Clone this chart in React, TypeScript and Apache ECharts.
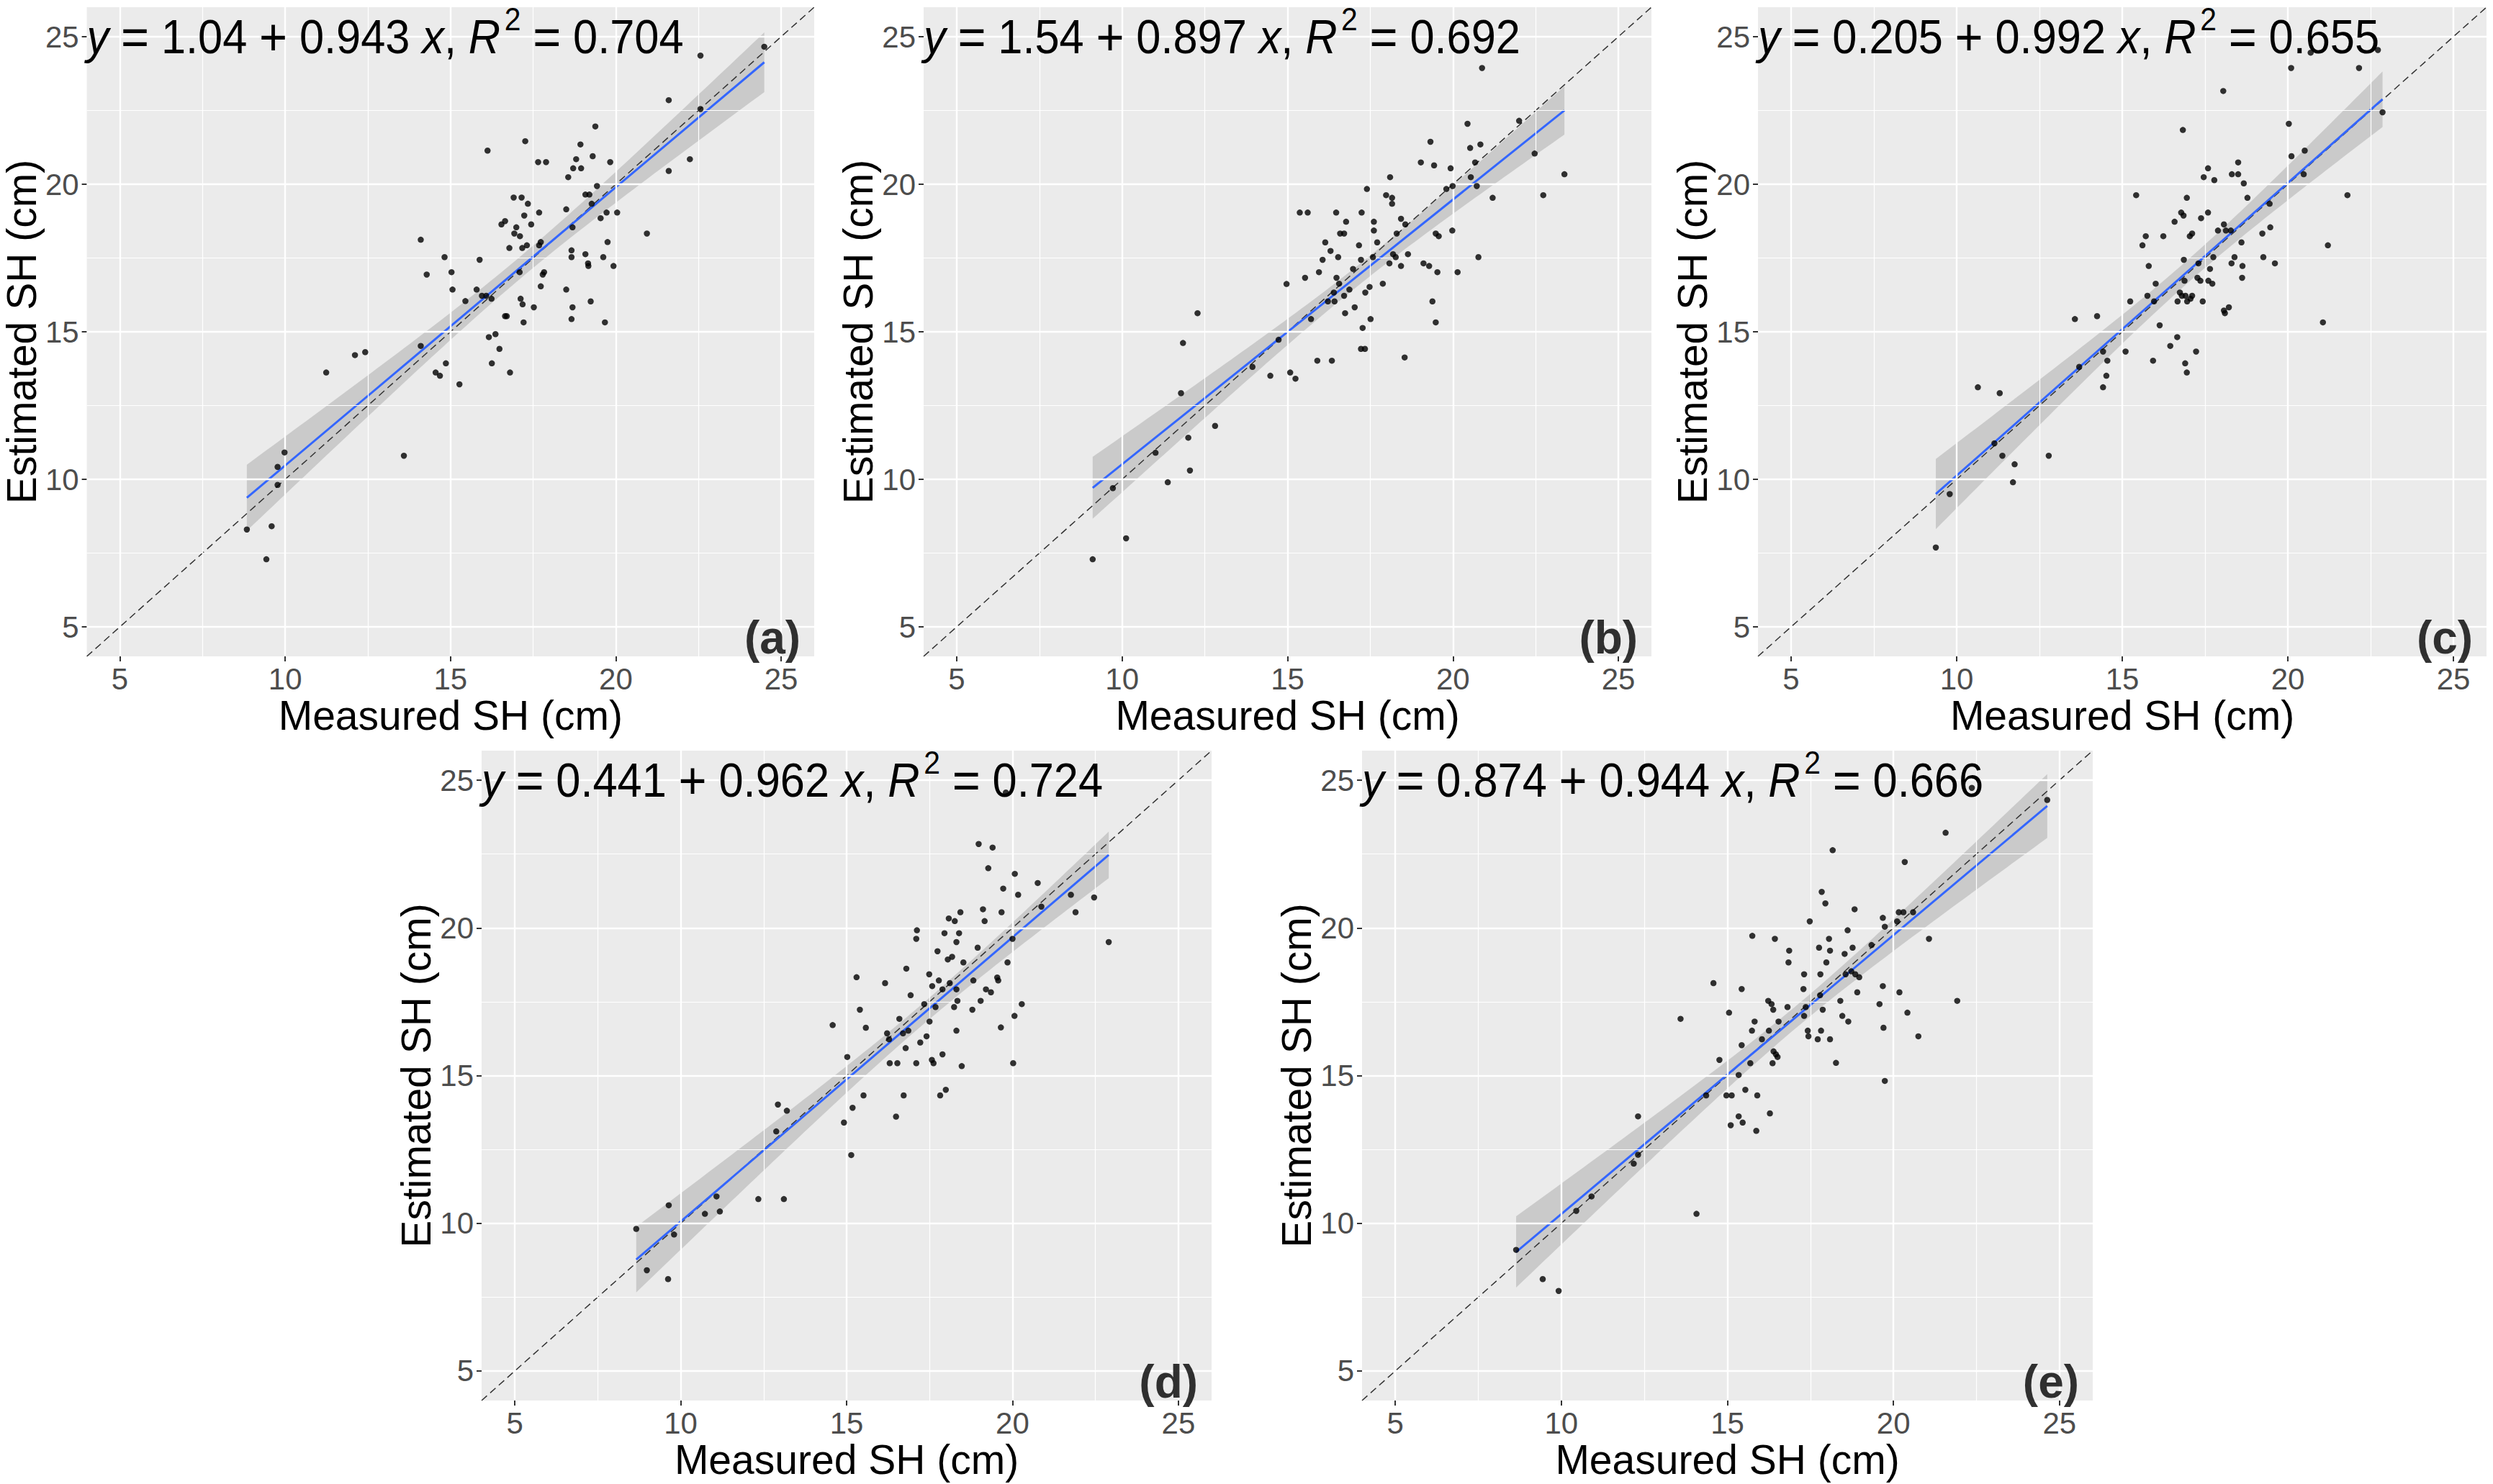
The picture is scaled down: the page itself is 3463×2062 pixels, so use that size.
import React, { useEffect, useRef } from 'react';
import * as echarts from 'echarts';

// ---------- data ----------
const axisRange = [4, 26];
const majorTicks = [5, 10, 15, 20, 25];
const minorTicks = [7.5, 12.5, 17.5, 22.5];
const panelLabels = ['(a)', '(b)', '(c)', '(d)', '(e)'];
const intercepts = [1.04, 1.54, 0.205, 0.441, 0.874];
const slopes = [0.943, 0.897, 0.992, 0.962, 0.944];
const interceptLabels = ['1.04', '1.54', '0.205', '0.441', '0.874'];
const slopeLabels = ['0.943', '0.897', '0.992', '0.962', '0.944'];
const rSquaredLabels = ['0.704', '0.692', '0.655', '0.724', '0.666'];
const xAxisTitle = 'Measured SH (cm)';
const yAxisTitle = 'Estimated SH (cm)';

const measuredA = [8.84, 9.43, 9.59, 9.77, 9.77, 9.98, 11.24, 12.11, 12.42, 13.59, 14.10, 14.10, 14.28, 14.55, 14.68, 14.82, 14.86, 15.03, 15.06, 15.27, 15.45, 15.79, 15.88, 15.95, 16.08, 16.12, 16.16, 16.24, 16.25, 16.36, 16.48, 16.54, 16.65, 16.65, 16.70, 16.78, 16.80, 16.91, 16.93, 16.99, 17.09, 17.10, 17.12, 17.15, 17.17, 17.18, 17.21, 17.23, 17.26, 17.31, 17.34, 17.44, 17.52, 17.65, 17.68, 17.68, 17.73, 17.73, 17.79, 17.83, 17.89, 18.50, 18.50, 18.56, 18.66, 18.66, 18.66, 18.69, 18.69, 18.71, 18.80, 18.93, 18.95, 19.08, 19.08, 19.16, 19.17, 19.20, 19.24, 19.27, 19.30, 19.38, 19.43, 19.54, 19.62, 19.67, 19.72, 19.75, 19.83, 19.93, 20.04, 20.94, 21.60, 21.60, 22.24, 22.56, 22.56, 24.49];
const estimatedA = [8.30, 7.29, 8.41, 9.81, 10.42, 10.91, 13.62, 14.21, 14.31, 10.80, 18.12, 14.52, 16.94, 13.62, 13.51, 17.53, 13.93, 17.02, 16.43, 13.22, 16.04, 16.43, 17.44, 16.22, 16.22, 21.14, 14.82, 16.12, 13.93, 14.92, 14.42, 18.64, 18.75, 15.53, 15.53, 17.84, 13.62, 19.55, 18.33, 18.54, 17.02, 18.24, 16.12, 19.55, 17.84, 15.93, 15.32, 18.94, 21.46, 17.93, 19.34, 18.64, 15.83, 20.75, 19.04, 17.93, 18.04, 16.54, 16.94, 17.02, 20.75, 16.43, 19.15, 20.24, 17.76, 17.53, 15.43, 15.83, 18.54, 20.54, 20.85, 21.35, 20.54, 19.65, 17.63, 17.32, 17.23, 19.65, 16.03, 19.34, 20.95, 21.96, 19.94, 18.85, 17.53, 15.32, 19.04, 18.04, 20.75, 17.23, 19.04, 18.33, 20.45, 22.85, 20.85, 22.55, 24.36, 24.66];

const measuredB = [9.11, 9.72, 10.12, 11.01, 11.38, 11.78, 11.84, 12.00, 12.05, 12.28, 12.81, 13.94, 14.48, 14.73, 14.97, 15.08, 15.24, 15.37, 15.53, 15.61, 15.71, 15.90, 15.95, 16.06, 16.14, 16.22, 16.30, 16.34, 16.40, 16.42, 16.47, 16.48, 16.53, 16.56, 16.59, 16.71, 16.71, 16.74, 16.77, 16.87, 16.98, 17.03, 17.16, 17.22, 17.24, 17.27, 17.22, 17.34, 17.35, 17.40, 17.48, 17.51, 17.58, 17.61, 17.61, 17.71, 17.88, 17.98, 18.08, 18.10, 18.16, 18.16, 18.19, 18.27, 18.30, 18.43, 18.43, 18.56, 18.54, 18.64, 19.03, 19.11, 19.28, 19.32, 19.38, 19.43, 19.48, 19.48, 19.53, 19.57, 19.80, 19.93, 19.98, 19.99, 20.14, 20.44, 20.52, 20.54, 20.67, 20.72, 20.77, 20.83, 20.88, 21.20, 22.00, 22.47, 22.73, 23.37];
const estimatedB = [7.29, 9.70, 8.00, 10.90, 9.90, 12.92, 14.62, 11.41, 10.30, 15.63, 11.81, 13.81, 13.51, 14.73, 16.62, 13.62, 13.41, 19.04, 16.83, 19.04, 15.43, 14.02, 17.02, 17.44, 18.03, 16.03, 17.74, 14.02, 16.33, 16.03, 19.04, 16.83, 17.53, 16.63, 18.33, 18.33, 16.22, 15.63, 18.73, 16.43, 17.13, 15.83, 17.93, 17.44, 19.04, 15.13, 14.42, 14.42, 16.33, 19.84, 16.52, 15.43, 17.53, 18.73, 18.43, 18.03, 16.63, 19.63, 17.32, 20.24, 19.34, 19.54, 17.63, 17.53, 18.33, 18.83, 17.23, 18.64, 14.13, 17.63, 20.74, 17.32, 17.23, 21.44, 16.03, 20.64, 18.33, 15.32, 17.02, 18.24, 19.84, 20.54, 18.43, 19.94, 17.02, 22.05, 21.23, 20.24, 20.74, 19.94, 17.53, 21.35, 23.94, 19.54, 22.15, 21.04, 19.63, 20.34];

const measuredC = [9.37, 9.79, 10.64, 11.14, 11.30, 11.38, 11.70, 11.75, 12.78, 13.57, 13.70, 14.24, 14.42, 14.42, 14.52, 14.55, 15.10, 15.24, 15.42, 15.61, 15.71, 15.76, 15.80, 15.93, 15.96, 16.01, 16.13, 16.24, 16.45, 16.58, 16.66, 16.67, 16.74, 16.78, 16.80, 16.83, 16.85, 16.86, 16.88, 16.90, 16.91, 16.95, 16.95, 16.96, 17.04, 17.06, 17.11, 17.11, 17.23, 17.27, 17.30, 17.36, 17.38, 17.43, 17.46, 17.59, 17.59, 17.60, 17.65, 17.72, 17.75, 17.78, 17.89, 18.05, 18.07, 18.07, 18.10, 18.13, 18.22, 18.28, 18.30, 18.31, 18.39, 18.50, 18.50, 18.60, 18.62, 18.63, 18.67, 18.78, 19.23, 19.26, 19.45, 19.47, 19.61, 20.03, 20.10, 20.11, 20.48, 20.51, 20.69, 21.06, 21.21, 21.80, 22.15, 22.72, 22.86];
const estimatedC = [7.69, 9.50, 13.12, 11.22, 12.92, 10.80, 9.90, 10.51, 10.80, 15.43, 13.81, 15.53, 14.33, 13.12, 13.51, 14.02, 14.33, 16.03, 19.63, 17.93, 18.24, 16.22, 17.23, 14.02, 16.03, 16.63, 15.22, 18.24, 14.52, 18.73, 14.82, 16.03, 16.33, 19.04, 16.22, 21.84, 18.94, 17.44, 16.73, 13.93, 16.22, 19.54, 13.62, 16.03, 18.24, 16.12, 18.33, 16.22, 14.33, 16.83, 17.32, 16.73, 18.85, 16.03, 20.24, 20.54, 19.04, 16.73, 17.13, 16.63, 17.53, 20.14, 18.43, 23.16, 18.64, 15.72, 15.63, 18.43, 15.83, 18.43, 17.32, 20.34, 17.53, 20.74, 20.34, 18.03, 16.83, 17.23, 20.03, 19.54, 18.33, 17.53, 19.34, 18.54, 17.32, 22.05, 23.94, 20.95, 20.34, 21.14, 24.46, 15.32, 17.93, 19.63, 23.94, 24.55, 22.44];

const measuredD = [8.66, 8.98, 9.62, 9.64, 9.80, 10.73, 11.08, 11.18, 12.34, 12.88, 12.93, 13.11, 13.20, 14.58, 14.92, 15.02, 15.14, 15.18, 15.30, 15.40, 15.51, 15.58, 16.16, 16.22, 16.28, 16.30, 16.49, 16.53, 16.59, 16.70, 16.72, 16.78, 16.80, 16.86, 16.93, 17.10, 17.12, 17.10, 17.22, 17.34, 17.41, 17.49, 17.50, 17.57, 17.58, 17.62, 17.68, 17.74, 17.78, 17.82, 17.89, 17.89, 17.95, 17.99, 18.05, 18.08, 18.11, 18.18, 18.24, 18.26, 18.31, 18.31, 18.31, 18.34, 18.39, 18.43, 18.47, 18.52, 18.79, 18.82, 18.95, 18.98, 19.04, 19.11, 19.16, 19.20, 19.27, 19.35, 19.40, 19.54, 19.57, 19.65, 19.67, 19.72, 19.80, 19.85, 20.00, 20.02, 20.06, 20.07, 20.17, 20.28, 20.76, 20.87, 21.76, 21.90, 22.46, 22.90];
const estimatedD = [9.81, 8.41, 8.11, 10.61, 9.62, 10.32, 10.91, 10.40, 10.82, 13.11, 14.02, 10.82, 13.81, 16.71, 13.41, 15.63, 12.31, 13.91, 18.33, 17.23, 14.33, 16.62, 18.13, 16.43, 16.23, 15.42, 13.61, 15.42, 16.92, 16.43, 14.33, 15.93, 18.62, 16.52, 17.72, 19.63, 19.92, 15.42, 16.12, 17.42, 16.33, 18.43, 16.83, 15.53, 18.03, 15.42, 17.32, 19.21, 18.22, 14.33, 17.92, 15.72, 19.82, 14.52, 18.93, 20.32, 18.13, 19.02, 17.32, 20.23, 17.92, 16.52, 19.52, 17.53, 19.82, 20.53, 15.32, 18.83, 17.23, 18.22, 19.33, 22.84, 17.53, 20.63, 20.23, 17.92, 22.02, 17.82, 22.72, 18.32, 18.22, 16.63, 20.53, 21.33, 24.58, 18.83, 19.63, 15.42, 17.02, 21.83, 21.12, 17.42, 21.52, 20.72, 21.12, 20.53, 21.03, 19.52];

const measuredE = [8.64, 9.44, 9.92, 10.45, 10.91, 12.18, 12.31, 12.31, 13.59, 14.07, 14.36, 14.58, 14.76, 14.97, 15.05, 15.10, 15.13, 15.34, 15.34, 15.43, 15.43, 15.46, 15.54, 15.69, 15.74, 15.75, 15.82, 15.87, 15.90, 16.04, 16.23, 16.25, 16.28, 16.33, 16.36, 16.38, 16.39, 16.43, 16.46, 16.51, 16.54, 16.81, 16.84, 16.86, 17.29, 17.31, 17.31, 17.36, 17.42, 17.44, 17.48, 17.72, 17.76, 17.79, 17.80, 17.82, 17.84, 17.87, 17.95, 17.98, 18.06, 18.09, 18.09, 18.17, 18.27, 18.40, 18.46, 18.53, 18.56, 18.62, 18.64, 18.73, 18.77, 18.83, 18.85, 18.91, 18.97, 19.34, 19.58, 19.68, 19.68, 19.70, 19.74, 19.74, 20.11, 20.16, 20.18, 20.30, 20.34, 20.42, 20.59, 20.75, 21.07, 21.57, 21.92, 22.36, 24.63];
const estimatedE = [9.10, 8.11, 7.71, 10.42, 10.91, 12.02, 12.32, 13.62, 16.92, 10.32, 14.33, 18.13, 15.53, 14.33, 17.13, 13.32, 14.33, 15.02, 13.62, 17.93, 16.03, 13.41, 14.52, 15.42, 16.52, 19.73, 16.83, 13.13, 14.33, 16.23, 17.53, 16.52, 13.72, 17.42, 15.42, 17.23, 15.82, 19.63, 15.72, 15.63, 16.83, 17.32, 18.83, 19.23, 17.93, 18.43, 17.02, 17.32, 16.52, 16.33, 20.22, 16.23, 19.33, 17.72, 18.43, 16.52, 21.22, 17.23, 20.83, 18.83, 19.63, 16.23, 19.23, 22.63, 15.43, 17.53, 17.02, 19.12, 18.43, 19.92, 16.83, 18.53, 19.33, 20.63, 18.43, 17.82, 18.33, 19.42, 17.42, 20.34, 18.03, 16.62, 20.04, 14.82, 20.22, 20.53, 17.82, 20.53, 22.23, 17.13, 20.53, 16.33, 19.63, 23.22, 17.53, 24.74, 24.33];

// ---------- helpers ----------
const FONT = '"Liberation Sans", Arial, sans-serif';

// 95 % confidence band of the fitted line, from the points and the printed fit
function bandFor(xs: number[], ys: number[], a: number, b: number, steps: number) {
  const n = xs.length;
  const xbar = xs.reduce((s, v) => s + v, 0) / n;
  const sxx = xs.reduce((s, v) => s + (v - xbar) * (v - xbar), 0);
  const sse = xs.reduce((s, v, k) => s + (ys[k] - a - b * v) * (ys[k] - a - b * v), 0);
  const se = Math.sqrt(sse / (n - 2));
  const t = 1.985;
  const xmin = Math.min(...xs);
  const xmax = Math.max(...xs);
  const gx: number[] = [];
  const lo: number[] = [];
  const hi: number[] = [];
  for (let k = 0; k < steps; k++) {
    const x = xmin + ((xmax - xmin) * k) / (steps - 1);
    const f = a + b * x;
    const h = t * se * Math.sqrt(1 / n + ((x - xbar) * (x - xbar)) / sxx);
    gx.push(x);
    lo.push(f - h);
    hi.push(f + h);
  }
  return { gx, lo, hi, xmin, xmax };
}

const panels = [
  { x: measuredA, y: estimatedA },
  { x: measuredB, y: estimatedB },
  { x: measuredC, y: estimatedC },
  { x: measuredD, y: estimatedD },
  { x: measuredE, y: estimatedE },
];

const layout = [
  { left: 118, top: 10, width: 1013, height: 902 },
  { left: 1283, top: 10, width: 1011, height: 902 },
  { left: 2442, top: 10, width: 1012, height: 902 },
  { left: 669, top: 1043, width: 1014, height: 903 },
  { left: 1892, top: 1043, width: 1015, height: 903 },
];

function buildOption() {
  const grid: any[] = [];
  const xAxis: any[] = [];
  const yAxis: any[] = [];
  const series: any[] = [];
  const fmt = (v: number) => (Number.isInteger(v) && v % 5 === 0 ? String(v) : '');

  panels.forEach((p, i) => {
    const L = layout[i];
    grid.push({
      left: L.left,
      top: L.top,
      width: L.width,
      height: L.height,
      show: true,
      backgroundColor: '#EBEBEB',
      borderWidth: 0,
    });
    const axisCommon = {
      gridIndex: i,
      type: 'value',
      min: axisRange[0],
      max: axisRange[1],
      splitLine: { show: false },
      axisLine: { show: false },
      axisTick: {
        show: true,
        length: 7,
        customValues: majorTicks,
        lineStyle: { color: '#333333', width: 2 },
      },
      axisLabel: {
        customValues: majorTicks,
        formatter: fmt,
        color: '#4D4D4D',
        fontSize: 42,
        fontFamily: FONT,
      },
      nameLocation: 'middle',
      nameTextStyle: { fontSize: 57, lineHeight: 58, color: '#000000', fontFamily: FONT },
    };
    xAxis.push({
      ...axisCommon,
      axisLabel: { ...axisCommon.axisLabel, margin: 10 },
      name: xAxisTitle,
      nameGap: 47,
    });
    yAxis.push({
      ...axisCommon,
      axisLabel: { ...axisCommon.axisLabel, margin: 11 },
      name: yAxisTitle,
      nameGap: 44,
    });

    const a = intercepts[i];
    const b = slopes[i];
    const band = bandFor(p.x, p.y, a, b, 80);

    // grid lines
    series.push({
      type: 'line',
      xAxisIndex: i,
      yAxisIndex: i,
      data: [],
      z: 1,
      silent: true,
      markLine: {
        silent: true,
        symbol: ['none', 'none'],
        label: { show: false },
        animation: false,
        data: [
          ...minorTicks.map((v) => ({ xAxis: v, lineStyle: { color: '#FFFFFF', width: 1.2, type: 'solid' } })),
          ...minorTicks.map((v) => ({ yAxis: v, lineStyle: { color: '#FFFFFF', width: 1.2, type: 'solid' } })),
          ...majorTicks.map((v) => ({ xAxis: v, lineStyle: { color: '#FFFFFF', width: 2.4, type: 'solid' } })),
          ...majorTicks.map((v) => ({ yAxis: v, lineStyle: { color: '#FFFFFF', width: 2.4, type: 'solid' } })),
        ],
      },
    });

    // confidence band
    series.push({
      type: 'custom',
      xAxisIndex: i,
      yAxisIndex: i,
      z: 2,
      silent: true,
      data: [[band.gx[0], band.lo[0]]],
      encode: { x: 0, y: 1 },
      renderItem: (_params: any, api: any) => {
        const upper = band.gx.map((x, k) => api.coord([x, band.hi[k]]));
        const lower = band.gx.map((x, k) => api.coord([x, band.lo[k]])).reverse();
        return {
          type: 'polygon',
          shape: { points: upper.concat(lower) },
          style: { fill: 'rgba(153,153,153,0.4)' },
        };
      },
    });

    // 1:1 line
    series.push({
      type: 'line',
      xAxisIndex: i,
      yAxisIndex: i,
      z: 3,
      silent: true,
      symbol: 'none',
      data: [
        [axisRange[0], axisRange[0]],
        [axisRange[1], axisRange[1]],
      ],
      lineStyle: { color: '#333333', width: 1.5, type: [10, 6] },
    });

    // fitted line
    series.push({
      type: 'line',
      xAxisIndex: i,
      yAxisIndex: i,
      z: 4,
      silent: true,
      symbol: 'none',
      data: [
        [band.xmin, a + b * band.xmin],
        [band.xmax, a + b * band.xmax],
      ],
      lineStyle: { color: '#3366FF', width: 3 },
    });

    // points
    series.push({
      type: 'scatter',
      xAxisIndex: i,
      yAxisIndex: i,
      z: 5,
      symbol: 'circle',
      symbolSize: 8.5,
      itemStyle: { color: '#000000' },
      data: p.x.map((x, k) => [x, p.y[k]]),
    });

    // panel tag
    series.push({
      type: 'scatter',
      xAxisIndex: i,
      yAxisIndex: i,
      z: 6,
      symbolSize: 1,
      itemStyle: { color: 'rgba(0,0,0,0)' },
      data: [[25.6, 4.63]],
      label: {
        show: true,
        position: 'left',
        distance: 0,
        formatter: panelLabels[i],
        fontSize: 64,
        fontWeight: 'bold',
        fontFamily: FONT,
        color: '#000000',
      },
    });
  });

  return {
    animation: false,
    backgroundColor: '#FFFFFF',
    grid,
    xAxis,
    yAxis,
    series,
  };
}

function equationGraphics(chart: echarts.ECharts) {
  const base = { fontSize: 66, fontFamily: FONT, fill: '#000000', lineHeight: 93 };
  return panels.map((_p, i) => {
    const pt = chart.convertToPixel({ gridIndex: i } as any, [axisRange[0], majorTicks[majorTicks.length - 1]]) as number[];
    return {
      type: 'text',
      x: pt[0],
      y: pt[1],
      scaleX: 0.93,
      scaleY: 1,
      z: 100,
      silent: true,
      style: {
        text:
          '{i|y}{op|=}{t|' + interceptLabels[i] + '}{op|+}{tp|' + slopeLabels[i] + '}{i|x}{tp|,}{i|R}{sup|2}{op|=}{t|' +
          rSquaredLabels[i] + '}',
        align: 'left',
        verticalAlign: 'middle',
        fontSize: 66,
        fontFamily: FONT,
        fill: '#000000',
        rich: {
          t: { ...base },
          tp: { ...base, padding: [0, 18, 0, 0] },
          i: { ...base, fontStyle: 'italic' },
          op: { ...base, fontSize: 72, padding: [0, 18, 0, 18] },
          sup: { fontSize: 44, fontFamily: FONT, fill: '#000000', lineHeight: 44, verticalAlign: 'top', padding: [0, 0, 0, 6] },
        },
      },
    };
  });
}

export default function App() {
  const ref = useRef<HTMLDivElement>(null);
  useEffect(() => {
    if (!ref.current) return;
    const chart = echarts.init(ref.current, undefined, { renderer: 'svg' });
    chart.setOption(buildOption() as any);
    chart.setOption({ graphic: equationGraphics(chart) } as any);
    return () => chart.dispose();
  }, []);
  return (
    <div
      ref={ref}
      style={{ position: 'absolute', left: 0, top: 0, width: 3463, height: 2062, background: '#FFFFFF' }}
    />
  );
}
